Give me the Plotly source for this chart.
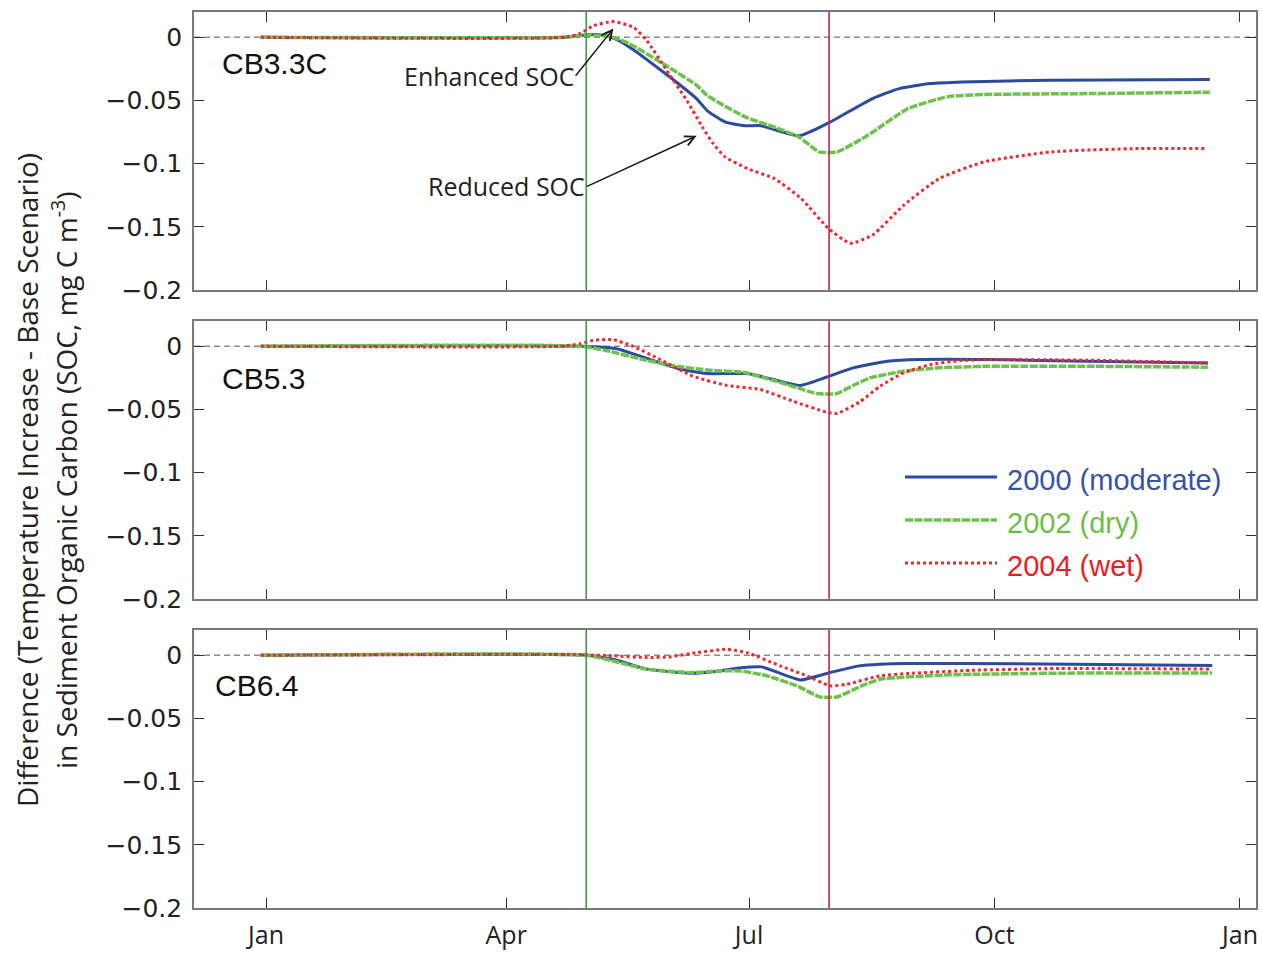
import pandas as pd
import plotly.graph_objects as go
from plotly.subplots import make_subplots

# Day-of-year offsets (days after 1 Jan) and SOC differences (mg C m-3)
# Station CB3.3C
cb33c_day_2000 = [-2, 112, 118, 125, 130, 136.4, 149, 161.4, 165.3, 172, 179.5, 185.5, 199.8,
                  210.6, 227.3, 237.3, 249, 261, 294, 353.7]
cb33c_2000 = [0, 0, 0.0015, 0.002, -0.0005, -0.008, -0.0277, -0.0487, -0.058, -0.067, -0.070, -0.070,
              -0.078, -0.068, -0.0485, -0.0406, -0.0366, -0.0353, -0.034, -0.0335]
cb33c_day_2002 = [-2, 112, 118, 125, 130, 136.4, 148.8, 161.4, 165.3, 179.5, 190.4, 199.8, 207.3,
                  214, 225.6, 240.6, 255.6, 269.1, 311, 353.7]
cb33c_2002 = [0, 0, 0.0015, 0.0015, 0, -0.0053, -0.021, -0.038, -0.046, -0.063, -0.071, -0.079,
              -0.0907, -0.0907, -0.0775, -0.0564, -0.047, -0.0453, -0.0445, -0.0435]
cb33c_day_2004 = [-2, 112, 117.7, 122.7, 130.2, 137.7, 142.7, 150.2, 157.7, 163.8, 167.5, 172,
                  180.5, 190.4, 200.5, 210.6, 218.9, 227.3, 239, 252.4, 269.1, 294.2, 327.6, 352]
cb33c_2004 = [0, 0, 0.003, 0.0092, 0.0124, 0.0079, -0.0026, -0.0263, -0.050, -0.072, -0.084, -0.0946,
              -0.104, -0.1117, -0.1275, -0.151, -0.163, -0.1565, -0.1328, -0.1117, -0.0986, -0.0907,
              -0.088, -0.088]

# Station CB5.3
cb53_day_2000 = [-2, 118, 131.4, 147.7, 155.2, 165.2, 180.2, 189, 200.2, 210.2, 220, 232.8, 245,
                 270.2, 307.7, 353]
cb53_2000 = [0, 0, -0.002, -0.0132, -0.018, -0.0216, -0.0216, -0.0256, -0.031, -0.0243, -0.0171,
             -0.0119, -0.0105, -0.0105, -0.0119, -0.0132]
cb53_day_2002 = [-2, 118, 128.9, 141.3, 153.9, 166.4, 178.8, 191.4, 206.4, 213.9, 220, 226.4, 238.8,
                 251.5, 270.2, 307.7, 353]
cb53_2002 = [0, 0, -0.004, -0.0105, -0.0158, -0.019, -0.0206, -0.0277, -0.0374, -0.0374, -0.031,
             -0.025, -0.0198, -0.0171, -0.0158, -0.0158, -0.0166]
cb53_day_2004 = [-2, 110, 117.7, 122.6, 130, 137.6, 147.7, 160, 172.7, 185.2, 197.5, 210.2, 213.9,
                 222.5, 230.1, 238.8, 248.9, 260.1, 270.2, 307.7, 353]
cb53_2004 = [0, 0, 0.002, 0.0047, 0.0053, 0, -0.0105, -0.0237, -0.031, -0.0342, -0.0435, -0.0522,
             -0.0532, -0.044, -0.0316, -0.0211, -0.0145, -0.0113, -0.0105, -0.011, -0.0132]

# Station CB6.4
cb64_day_2000 = [-2, 120.2, 130, 142.7, 158.9, 170.2, 178.8, 185.8, 200.2, 211.4, 222.3, 230.1,
                 240.3, 281.1, 354.6]
cb64_2000 = [0, 0, -0.0032, -0.011, -0.0142, -0.0124, -0.0097, -0.0092, -0.0195, -0.0137, -0.0084,
             -0.0071, -0.0065, -0.0068, -0.0082]
cb64_day_2002 = [-2, 120.2, 130, 142.7, 158.9, 170.2, 177.7, 187.7, 198.9, 207.6, 213.9, 223.8,
                 230.1, 256.4, 297.2, 354.6]
cb64_2002 = [0, 0, -0.0045, -0.011, -0.0137, -0.0124, -0.0124, -0.0163, -0.0242, -0.033, -0.033,
             -0.0237, -0.019, -0.0155, -0.0142, -0.014]
cb64_day_2004 = [-2, 117.7, 130, 142.7, 151.4, 161.4, 172.7, 180.2, 192.7, 202.7, 211.4, 217.6,
                 230.1, 240.3, 264.6, 297.2, 353.8]
cb64_2004 = [0, 0.0005, -0.0005, -0.0018, -0.0013, 0.0021, 0.0047, 0.0021, -0.0084, -0.0163,
             -0.0242, -0.0229, -0.0163, -0.0145, -0.0119, -0.0105, -0.011]

station_names = ["CB3.3C", "CB5.3", "CB6.4"]
series_names = ["2000 (moderate)", "2002 (dry)", "2004 (wet)"]
month_ticks = ["2001-01-01", "2001-04-01", "2001-07-01", "2001-10-01", "2002-01-01"]
month_labels = ["Jan", "Apr", "Jul", "Oct", "Jan"]
y_ticks = [0, -0.05, -0.1, -0.15, -0.2]
event_dates = ["2001-05-01", "2001-07-31"]

BASE = pd.Timestamp("2001-01-01")


def to_dates(days):
    return [BASE + pd.Timedelta(days=float(d)) for d in days]


def day(d):
    return BASE + pd.Timedelta(days=float(d))


stations = [
    [(cb33c_day_2000, cb33c_2000), (cb33c_day_2002, cb33c_2002), (cb33c_day_2004, cb33c_2004)],
    [(cb53_day_2000, cb53_2000), (cb53_day_2002, cb53_2002), (cb53_day_2004, cb53_2004)],
    [(cb64_day_2000, cb64_2000), (cb64_day_2002, cb64_2002), (cb64_day_2004, cb64_2004)],
]

line_styles = [
    dict(color="#2c4a9e", width=3),
    dict(color="#6cc24a", width=3.5, dash="8px,1.5px"),
    dict(color="#f0282d", width=3, dash="dot"),
]
legend_text_colors = ["#3953a4", "#6dbe45", "#ed1c24"]
event_colors = ["#3b9b45", "#c2283f"]

fig = make_subplots(rows=3, cols=1)

for r, series in enumerate(stations, start=1):
    for (days, vals), style, name in zip(series, line_styles, series_names):
        fig.add_trace(
            go.Scatter(x=to_dates(days), y=vals, mode="lines", name=name,
                       line=dict(shape="spline", smoothing=0.5, **style),
                       showlegend=False),
            row=r, col=1)

axis_line = "#7a7a7a"
domains = [[0.6897, 1.0], [0.3449, 0.6551], [0.0, 0.3103]]
for r in range(1, 4):
    xa = "xaxis" if r == 1 else f"xaxis{r}"
    ya = "yaxis" if r == 1 else f"yaxis{r}"
    fig.layout[xa].update(
        type="date", range=["2000-12-05", "2002-01-07"],
        tickvals=month_ticks, ticktext=month_labels, automargin=False,
        showticklabels=(r == 3), ticks="inside", ticklen=10, tickwidth=1.2,
        tickcolor="#333333", showline=True, linecolor=axis_line, linewidth=1.6,
        mirror="ticks", showgrid=False, zeroline=False, ticklabelstandoff=4,
        tickfont=dict(family="Open Sans", size=25, color="#222222"),
        anchor=f"y{'' if r == 1 else r}")
    fig.layout[ya].update(
        domain=domains[r - 1], range=[-0.2, 0.02], tickvals=y_ticks, automargin=False,
        ticks="inside", ticklen=10, tickwidth=1.2, tickcolor="#333333",
        showline=True, linecolor=axis_line, linewidth=1.6, mirror="ticks",
        showgrid=False, zeroline=False, ticklabelstandoff=5,
        tickfont=dict(family="DejaVu Sans", size=25, color="#222222"))

    xref = "x" if r == 1 else f"x{r}"
    yref = "y" if r == 1 else f"y{r}"
    # Zero reference line
    fig.add_shape(type="line", xref=f"{xref} domain", yref=yref, x0=0, x1=1, y0=0, y1=0,
                  line=dict(color="#8c8c8c", width=1.5, dash="6px,4px"), layer="below")
    # Event markers
    for d, c in zip(event_dates, event_colors):
        fig.add_shape(type="line", xref=xref, yref=f"{yref} domain", x0=d, x1=d, y0=0, y1=1,
                      line=dict(color=c, width=1.6), layer="above")

# Station labels
label_pos = [(0.0245, 0.8165), (0.0245, 0.795), (0.0179, 0.7986)]
for r, (name, (lx, ly)) in enumerate(zip(station_names, label_pos), start=1):
    xref = "x" if r == 1 else f"x{r}"
    yref = "y" if r == 1 else f"y{r}"
    fig.add_annotation(text=name, xref=f"{xref} domain", yref=f"{yref} domain", x=lx, y=ly,
                       xanchor="left", yanchor="middle", showarrow=False,
                       font=dict(family="Liberation Sans", size=30, color="#111111"))

# Callouts in the top panel: text box sits at the arrow tail, arrow points at the curve
anno_font = dict(family="Open Sans", size=25, color="#222222")
for text, (tx, ty), (hx, hy) in [("Enhanced SOC", (116.0, -0.0305), (130.2, 0.0069)),
                                 ("Reduced SOC", (120.3, -0.1180), (161.4, -0.078))]:
    fig.add_annotation(text=text, xref="x", yref="y", axref="x", ayref="y",
                       x=day(hx), y=hy, ax=day(tx), ay=ty,
                       xanchor="right", yanchor="middle",
                       showarrow=True, arrowhead=5, arrowsize=1.3, arrowwidth=1.5,
                       arrowcolor="#1a1a1a", standoff=0, startstandoff=0,
                       font=anno_font)

# Legend drawn in the middle panel
leg_line_y = [0.4810, 0.4330, 0.3850]
leg_text_y = [0.4777, 0.4297, 0.3817]
for style, name, tc, ly, ty in zip(line_styles, series_names, legend_text_colors,
                                   leg_line_y, leg_text_y):
    fig.add_shape(type="line", xref="paper", yref="paper", x0=0.6695, x1=0.7561, y0=ly, y1=ly,
                  line=dict(color=style["color"], width=style["width"],
                            dash=style.get("dash", "solid")))
    fig.add_annotation(text=name, xref="paper", yref="paper", x=0.7637, y=ty,
                       xanchor="left", yanchor="middle", showarrow=False,
                       font=dict(family="Liberation Sans", size=29, color=tc))

# Shared y-axis title (two lines)
title_font = dict(family="Open Sans", size=28, color="#222222")
fig.add_annotation(text="Difference (Temperature Increase - Base Scenario)", xref="paper",
                   yref="paper", x=-0.1572, y=0.4777, textangle=-90, showarrow=False,
                   xanchor="center", yanchor="middle", font=title_font)
fig.add_annotation(text="in Sediment Organic Carbon (SOC, mg C m<sup>-3</sup>)", xref="paper",
                   yref="paper", x=-0.1215, y=0.4777, textangle=-90, showarrow=False,
                   xanchor="center", yanchor="middle", font=title_font)

fig.update_layout(
    width=1262, height=953,
    margin=dict(l=194, r=6, t=12, b=45, autoexpand=False),
    paper_bgcolor="white", plot_bgcolor="white",
    showlegend=False,
)

fig.write_html("out.html")
